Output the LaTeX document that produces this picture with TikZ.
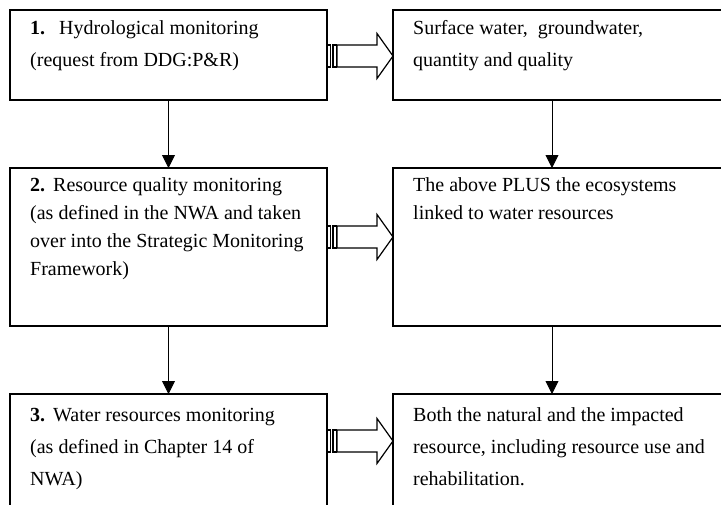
\documentclass[tikz,border=0pt]{standalone}
\usepackage{fontspec}
\setmainfont{Liberation Serif}
\usetikzlibrary{arrows.meta,calc}
\newcommand{\myTop}{\rule{0pt}{15pt}}
\begin{document}
\begin{tikzpicture}[x=1pt,y=-1pt,
  box/.style={draw,line width=1.5pt,inner sep=0pt,outer sep=0pt,anchor=north west},
  txt/.style={inner sep=0pt,anchor=north west,align=left,font=\fontsize{20}{32}\selectfont},
  txtb/.style={inner sep=0pt,anchor=north west,align=left,font=\fontsize{20}{28}\selectfont},
  down/.style={-{Triangle[width=13pt,length=13pt]},line width=0.9pt},
  blk/.style={line width=1.2pt,fill=white},
  bigarrow/.pic={
    \draw[blk] (10,-11) -- (50,-11) -- (50,-22.5) -- (66,0) -- (50,22.5) -- (50,11) -- (10,11) -- cycle;
    \draw[blk] (0,-11) rectangle (3.5,11);
    \draw[blk] (6,-11) rectangle (9.5,11);
  }]
\useasboundingbox (0,0) rectangle (721,504);
\clip (0,0) rectangle (721,504);

% boxes
\node[box,minimum width=317pt,minimum height=90pt]  (L1) at (10,10)  {};
\node[box,minimum width=337pt,minimum height=90pt]  (R1) at (393,10) {};
\node[box,minimum width=317pt,minimum height=158pt] (L2) at (10,168) {};
\node[box,minimum width=337pt,minimum height=158pt] (R2) at (393,168) {};
\node[box,minimum width=317pt,minimum height=120pt] (L3) at (10,394) {};
\node[box,minimum width=337pt,minimum height=120pt] (R3) at (393,394) {};

% texts
\node[txt]  (t1) at ($(L1.north west)+(20,9)$) {\myTop\textbf{1.}\hspace{14pt}Hydrological monitoring\\(request from DDG:P\&R)};
\node[txt]  (u1) at ($(R1.north west)+(20,9)$) {\myTop Surface water,\ \ groundwater,\\quantity and quality};
\node[txtb] (t2) at ($(L2.north west)+(20,8)$) {\myTop\textbf{2.}\hspace{8pt}Resource quality monitoring\\(as defined in the NWA and taken\\over into the Strategic Monitoring\\Framework)};
\node[txtb] (u2) at ($(R2.north west)+(20,8)$) {\myTop The above PLUS the ecosystems\\linked to water resources};
\node[txt]  (t3) at ($(L3.north west)+(20,12)$) {\myTop\textbf{3.}\hspace{8pt}Water resources monitoring\\(as defined in Chapter 14 of\\NWA)};
\node[txt]  (u3) at ($(R3.north west)+(20,12)$) {\myTop Both the natural and the impacted\\resource, including resource use and\\rehabilitation.};

% vertical connectors
\draw[down] (L1.south) -- (L2.north);
\draw[down] (L2.south) -- (L3.north);
\draw[down] ([xshift=-9.5pt]R1.south) -- ([xshift=-9.5pt]R2.north);
\draw[down] ([xshift=-9.5pt]R2.south) -- ([xshift=-9.5pt]R3.north);

% block arrows
\pic at ([yshift=-1pt]L1.east) {bigarrow};
\pic at ([yshift=10pt]L2.east) {bigarrow};
\pic at ([yshift=13pt]L3.east) {bigarrow};
\end{tikzpicture}
\end{document}
